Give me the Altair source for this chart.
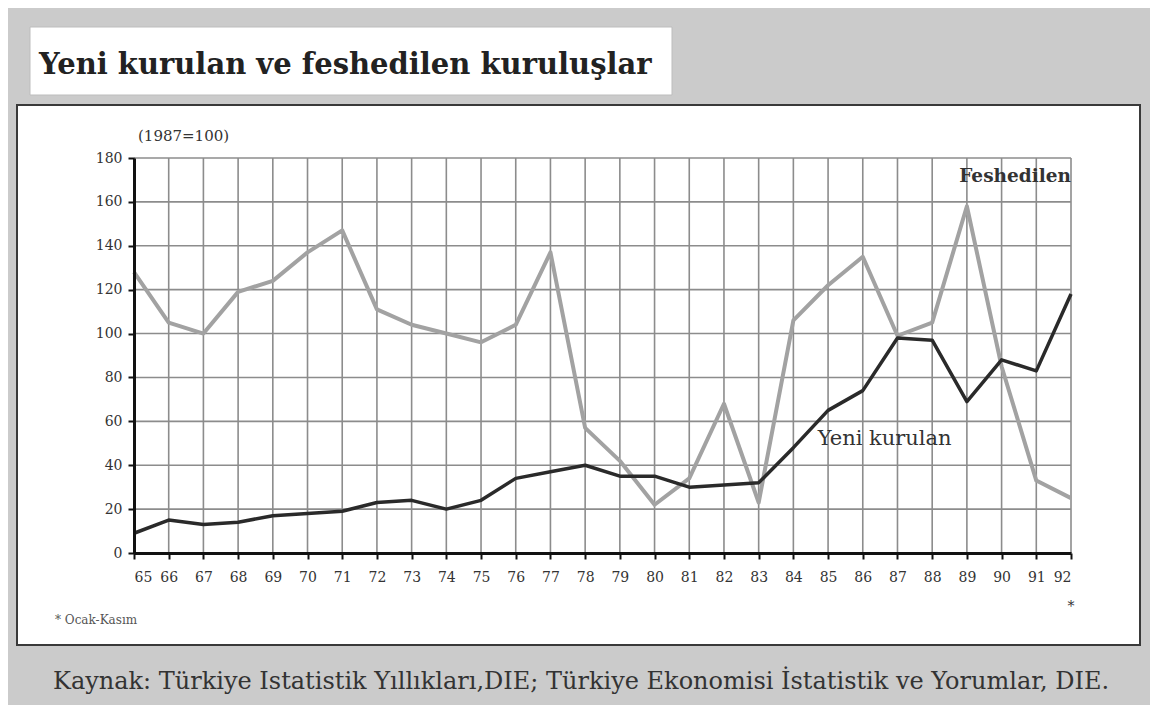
import altair as alt
import pandas as pd

# ---- data ----
years = list(range(65, 93))
feshedilen = [128, 105, 100, 119, 124, 137, 147, 111, 104, 100, 96, 104, 137, 57,
              42, 22, 34, 68, 23, 106, 122, 135, 99, 105, 158, 85, 33, 25]
yeni_kurulan = [9, 15, 13, 14, 17, 18, 19, 23, 24, 20, 24, 34, 37, 40,
                35, 35, 30, 31, 32, 48, 65, 74, 98, 97, 69, 88, 83, 118]
y_ticks = [0, 20, 40, 60, 80, 100, 120, 140, 160, 180]
series_names = ["Feshedilen", "Yeni kurulan"]
series_colors = ["#a2a2a2", "#2a2a2a"]

title_text = "Yeni kurulan ve feshedilen kuruluşlar"
unit_text = "(1987=100)"
note_text = "* Ocak-Kasım"
source_text = "Kaynak: Türkiye Istatistik Yıllıkları,DIE; Türkiye Ekonomisi İstatistik ve Yorumlar, DIE."

df = pd.DataFrame({
    "yil": years * 2,
    "deger": feshedilen + yeni_kurulan,
    "seri": [series_names[0]] * len(years) + [series_names[1]] * len(years),
})

SERIF = "DejaVu Serif"

xscale = alt.Scale(domain=[65, 92], nice=False, zero=False)
yscale = alt.Scale(domain=[0, 180], nice=False, zero=True)

xaxis = alt.Axis(values=years, format="d", title=None, grid=False, zindex=1,
                 labelFont=SERIF, labelFontSize=14, labelColor="#333",
                 labelPadding=11, tickSize=6, tickWidth=2, tickColor="#111",
                 domainWidth=3, domainColor="#111")
yaxis = alt.Axis(values=y_ticks, title=None, grid=False, zindex=1,
                 labelFont=SERIF, labelFontSize=14, labelColor="#333",
                 labelPadding=6, tickSize=6, tickWidth=2, tickColor="#111",
                 domainWidth=3, domainColor="#111")

one = pd.DataFrame({"a": [0]})

# white inner panel
panel = alt.Chart(one).mark_rect(fill="white", stroke="#3a3a3a", strokeWidth=2).encode(
    x=alt.value(-117), x2=alt.value(1006), y=alt.value(-53), y2=alt.value(487))

# white title box
title_box = alt.Chart(one).mark_rect(fill="white", stroke="#bdbdbd", strokeWidth=1).encode(
    x=alt.value(-104), x2=alt.value(538), y=alt.value(-131), y2=alt.value(-63))

title = alt.Chart(one).mark_text(
    text=title_text, font=SERIF, fontSize=29, fontWeight="bold", color="#222",
    align="left", baseline="alphabetic").encode(x=alt.value(-95), y=alt.value(-84))

vgrid = alt.Chart(pd.DataFrame({"yil": years})).mark_rule(
    color="#8c8c8c", strokeWidth=1.6).encode(
    x=alt.X("yil:Q", scale=xscale, axis=xaxis))

hgrid = alt.Chart(pd.DataFrame({"deger": y_ticks})).mark_rule(
    color="#8c8c8c", strokeWidth=1.6).encode(
    y=alt.Y("deger:Q", scale=yscale, axis=yaxis))

lines = alt.Chart(df).mark_line(strokeJoin="round").encode(
    x=alt.X("yil:Q", scale=xscale, axis=xaxis),
    y=alt.Y("deger:Q", scale=yscale, axis=yaxis),
    color=alt.Color("seri:N", scale=alt.Scale(domain=series_names, range=series_colors), legend=None),
    strokeWidth=alt.StrokeWidth("seri:N", scale=alt.Scale(domain=series_names, range=[4, 3.5]), legend=None),
    order=alt.Order("yil:Q"),
)

lab_df = pd.DataFrame({"yil": [92, 84.7], "deger": [172, 52], "t": series_names})
lab_fes = alt.Chart(lab_df.iloc[[0]]).mark_text(
    font=SERIF, fontSize=18.5, fontWeight="bold", color="#333", align="right", baseline="middle").encode(
    x=alt.X("yil:Q", scale=xscale, axis=xaxis), y=alt.Y("deger:Q", scale=yscale, axis=yaxis), text="t:N")
lab_yeni = alt.Chart(lab_df.iloc[[1]]).mark_text(
    font=SERIF, fontSize=21, color="#333", align="left", baseline="middle").encode(
    x=alt.X("yil:Q", scale=xscale, axis=xaxis), y=alt.Y("deger:Q", scale=yscale, axis=yaxis), text="t:N")

star = alt.Chart(pd.DataFrame({"yil": [92]})).mark_text(
    text="*", font=SERIF, fontSize=14, color="#333", baseline="middle").encode(
    x=alt.X("yil:Q", scale=xscale, axis=xaxis), y=alt.value(449))

unit = alt.Chart(one).mark_text(
    text=unit_text, font=SERIF, fontSize=15, color="#333", align="left", baseline="middle").encode(
    x=alt.value(4), y=alt.value(-22))

note = alt.Chart(one).mark_text(
    text=note_text, font=SERIF, fontSize=12, color="#555", align="left", baseline="middle").encode(
    x=alt.value(-79), y=alt.value(462))

source = alt.Chart(one).mark_text(
    text=source_text, font=SERIF, fontSize=24, color="#333", align="left", baseline="middle").encode(
    x=alt.value(-81), y=alt.value(524))

chart = alt.layer(
    panel, title_box, title, vgrid, hgrid, lines, lab_fes, lab_yeni, star, unit, note, source
).properties(
    width=937, height=395,
    padding={"left": 126, "top": 150, "right": 79, "bottom": 152},
    autosize=alt.AutoSizeParams(type="none"),
    background="#cbcbcb",
).configure_view(stroke=None)

chart.save("out.html", embed_options={"renderer": "svg", "actions": False})
